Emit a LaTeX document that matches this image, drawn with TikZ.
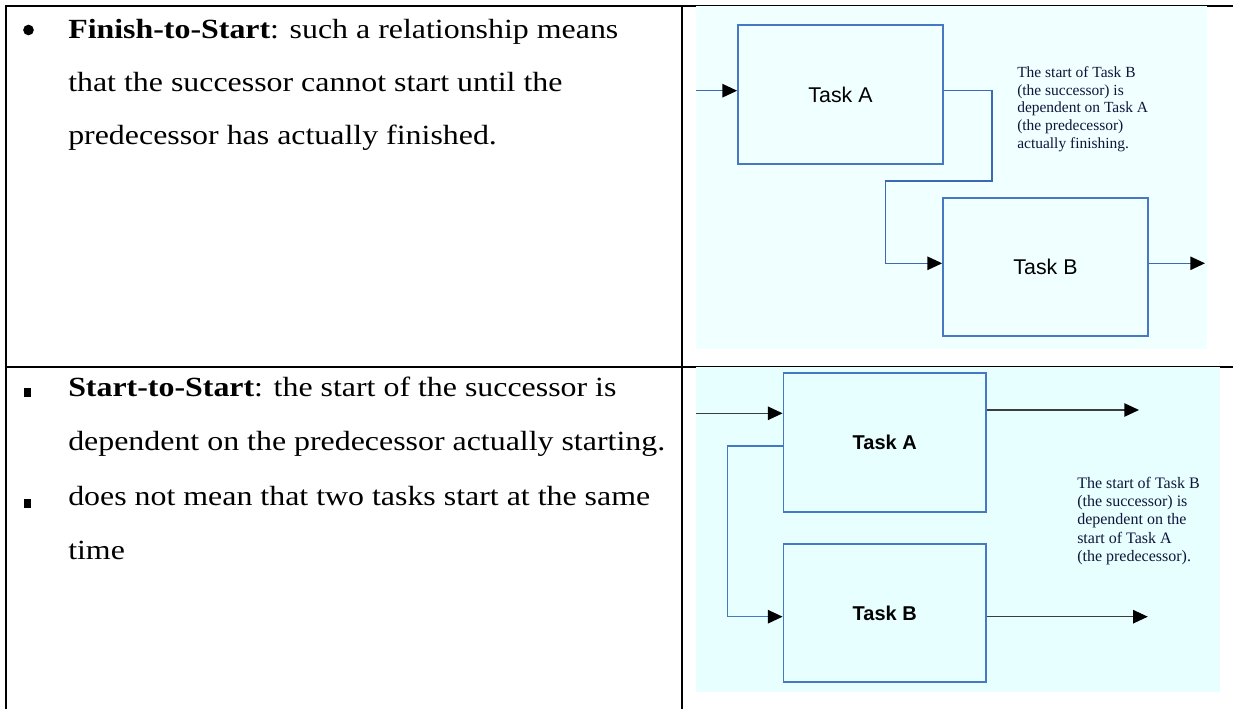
\documentclass[tikz,border=0pt]{standalone}
\usepackage{fontspec}
\setmainfont{Liberation Serif}
\setsansfont{Liberation Sans}
\usetikzlibrary{arrows.meta}

\definecolor{boxblue}{RGB}{70,120,195}
\definecolor{linkblue}{RGB}{60,105,175}
\definecolor{linkgrey}{RGB}{60,60,60}
\definecolor{notenavy}{RGB}{15,22,60}
\definecolor{panelone}{RGB}{240,255,255}
\definecolor{paneltwo}{RGB}{232,255,255}

% the cell text of the handout is set a little wide
\newcommand{\widetext}[1]{\scalebox{1.15}[1]{#1}}

\tikzset{
    rule/.style = {line width=1.5pt, black},
    celltext/.style = {anchor=base west, inner sep=0pt, font=\fontsize{20.8}{24}\selectfont},
    bulletdot/.style = {circle, fill=black, inner sep=0pt, minimum size=8pt},
    bulletsq/.style = {fill=black, inner sep=0pt, minimum width=5pt, minimum height=6.5pt},
    task/.style = {draw=boxblue, line width=1.3pt, inner sep=0pt},
    note/.style = {anchor=north west, inner sep=0pt, align=left, text=notenavy},
    link/.style = {line width=1.1pt, -{Triangle[length=11pt,width=10pt,black]}}
}

\begin{document}
\begin{tikzpicture}[x=0.75pt, y=-0.75pt]
        \useasboundingbox (0,0) rectangle (1233,709);

        % table rules
        \draw[rule] (5.5,709) -- (5.5,5.7) -- (1233,5.7);
        \draw[rule] (681.7,5.7) -- (681.7,709);
        \draw[rule] (5.5,366.7) -- (1233,366.7);

        % left column
        \node (fs_dot)[bulletdot] at (28.5,30) {};
        \node (fs_1)[celltext] at (68,39) {\widetext{\textbf{Finish-to-Start}: such a relationship means}};
        \node (fs_2)[celltext] at (68,92) {\widetext{that the successor cannot start until the}};
        \node (fs_3)[celltext] at (68,145) {\widetext{predecessor has actually finished.}};

        \node (ss_sq1)[bulletsq] at (27.5,392.5) {};
        \node (ss_1)[celltext] at (68,397) {\widetext{\textbf{Start-to-Start}: the start of the successor is}};
        \node (ss_2)[celltext] at (68,451) {\widetext{dependent on the predecessor actually starting.}};
        \node (ss_sq2)[bulletsq] at (27.5,503.5) {};
        \node (ss_3)[celltext] at (68,505) {\widetext{does not mean that two tasks start at the same}};
        \node (ss_4)[celltext] at (68,559) {\widetext{time}};

        % finish-to-start panel
        \fill[panelone] (696,6.3) rectangle (1207,349);
        \node (taskA1)[task, minimum width=153.75pt, minimum height=104.25pt,
            font=\sffamily\fontsize{16}{18}\selectfont] at (840.5,94.5) {Task A};
        \node (taskB1)[task, minimum width=153.75pt, minimum height=103.5pt,
            font=\sffamily\fontsize{16}{18}\selectfont] at (1045.5,267) {Task B};
        \coordinate (in_a1) at (696,90.7);
        \coordinate (out_b1) at (1205,263.3);
        \draw[link, linkblue] (in_a1) -- (taskA1.west |- in_a1);
        \draw[link, linkblue] (taskA1.east |- in_a1) -| (992,181) -| (885.6,263.3) -- (taskB1.west |- out_b1);
        \draw[link, linkblue] (taskB1.east |- out_b1) -- (out_b1);
        \node (fs_note)[note, font=\fontsize{11.6}{13.2}\selectfont] at (1017,66.5)
            {The start of Task B\\(the successor) is\\dependent on Task A\\(the predecessor)\\actually finishing.};

        % start-to-start panel
        \fill[paneltwo] (696,367.4) rectangle (1220,692);
        \node (taskA2)[task, minimum width=151.9pt, minimum height=104.25pt,
            font=\sffamily\bfseries\fontsize{15}{17}\selectfont] at (884.75,442.2) {Task A};
        \node (taskB2)[task, minimum width=151.9pt, minimum height=103.7pt,
            font=\sffamily\bfseries\fontsize{15}{17}\selectfont] at (884.75,613.2) {Task B};
        \coordinate (in_a2) at (696,413.3);
        \coordinate (out_a2) at (1139,410);
        \coordinate (out_b2) at (1147.8,616.7);
        \draw[link, linkgrey] (in_a2) -- (taskA2.west |- in_a2);
        \draw[link, boxblue] (taskA2.west |- 0,446) -| (727.4,616.7) -- (taskB2.west |- out_b2);
        \draw[link, linkgrey] (taskA2.east |- out_a2) -- (out_a2);
        \draw[link, linkgrey] (taskB2.east |- out_b2) -- (out_b2);
        \node (ss_note)[note, font=\fontsize{12}{13.7}\selectfont] at (1077,476.7)
            {The start of Task B\\(the successor) is\\dependent on the\\start of Task A\\(the predecessor).};
\end{tikzpicture}
\end{document}
